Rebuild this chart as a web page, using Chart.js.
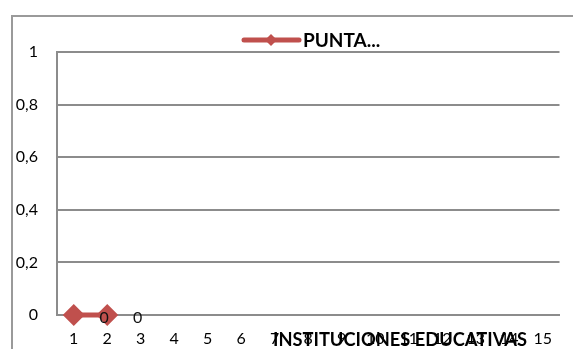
<!DOCTYPE html>
<html>
<head>
<meta charset="utf-8">
<script src="https://cdn.jsdelivr.net/npm/chart.js@4/dist/chart.umd.min.js"></script>
<style>
  html, body { margin: 0; padding: 0; background: #fff; }
  #wrap { position: relative; width: 573px; height: 349px; }
</style>
</head>
<body>
<div id="wrap"><canvas id="chart" width="573" height="349"></canvas></div>
<script>
// chart data
let categories = ['1','2','3','4','5','6','7','8','9','10','11','12','13','14','15'];
let puntajes = [0, 0, null, null, null, null, null, null, null, null, null, null, null, null, null];
let seriesName = 'PUNTA...';
let axisTitle = 'INSTITUCIONES EDUCATIVAS';
let yTicks = [0, 0.2, 0.4, 0.6, 0.8, 1];

const red = '#C0504D';
const grey = '#8c8c8c';
const fontFamily = 'Lato, "Open Sans", sans-serif';

// frame, legend, axis title and point labels drawn on top of the chart
const extras = {
    id: 'extras',
    beforeDraw(chart) {
        const ctx = chart.ctx;
        ctx.save();
        ctx.strokeStyle = '#9a9a9a';
        ctx.lineWidth = 2;
        ctx.beginPath();
        ctx.moveTo(12, 400);
        ctx.lineTo(12, 16);
        ctx.lineTo(600, 16);
        ctx.stroke();
        ctx.restore();
    },
    afterDraw(chart) {
        const ctx = chart.ctx;
        ctx.save();

        // legend
        const lx = 244, ly = 40;
        ctx.strokeStyle = red;
        ctx.lineWidth = 5;
        ctx.lineCap = 'round';
        ctx.beginPath();
        ctx.moveTo(lx, ly);
        ctx.lineTo(lx + 55, ly);
        ctx.stroke();
        ctx.fillStyle = red;
        ctx.beginPath();
        ctx.moveTo(lx + 27, ly - 6);
        ctx.lineTo(lx + 33, ly);
        ctx.lineTo(lx + 27, ly + 6);
        ctx.lineTo(lx + 21, ly);
        ctx.closePath();
        ctx.fill();
        ctx.fillStyle = '#000';
        ctx.font = 'bold 19px ' + fontFamily;
        ctx.textBaseline = 'middle';
        ctx.textAlign = 'left';
        ctx.fillText(seriesName, lx + 59, ly + 1);

        // axis title, placed like the original (over the tick labels)
        ctx.font = 'bold 18px ' + fontFamily;
        const w = ctx.measureText(axisTitle).width;
        const size = 18 * 255 / w;
        ctx.font = 'bold ' + size.toFixed(1) + 'px ' + fontFamily;
        ctx.textAlign = 'center';
        ctx.fillText(axisTitle, 400, 340);

        // point labels
        const meta = chart.getDatasetMeta(0);
        ctx.font = '16px ' + fontFamily;
        ctx.fillStyle = '#111';
        meta.data.forEach((pt, i) => {
            if (puntajes[i] === null) return;
            ctx.fillText(String(puntajes[i]), pt.x + 30.5, pt.y + 3);
        });
        ctx.restore();
    }
};

const ctx = document.getElementById('chart').getContext('2d');
new Chart(ctx, {
    type: 'line',
    data: {
        labels: categories,
        datasets: [{
            label: seriesName,
            data: puntajes,
            borderColor: red,
            backgroundColor: red,
            borderWidth: 5,
            pointStyle: 'rectRot',
            pointRadius: 11,
            pointBorderWidth: 0,
            clip: false
        }]
    },
    options: {
        responsive: false,
        animation: false,
        layout: { padding: { top: 52, right: 13.5, bottom: 0, left: 0 } },
        plugins: {
            legend: { display: false },
            tooltip: { enabled: false }
        },
        scales: {
            x: {
                offset: true,
                grid: { display: false, drawTicks: false },
                border: { display: true, color: grey, width: 2 },
                ticks: {
                    padding: 14,
                    maxRotation: 0,
                    autoSkip: false,
                    color: '#000',
                    font: { family: fontFamily, size: 16 }
                },
                afterFit(scale) { scale.height = 34; }
            },
            y: {
                min: 0,
                max: 1,
                afterBuildTicks(scale) { scale.ticks = yTicks.map(v => ({ value: v })); },
                grid: { color: grey, lineWidth: 2, drawTicks: false },
                border: { display: true, color: grey, width: 2 },
                ticks: {
                    padding: 19,
                    color: '#000',
                    font: { family: fontFamily, size: 16 },
                    callback: v => String(v).replace('.', ',')
                },
                afterFit(scale) { scale.width = 57; }
            }
        }
    },
    plugins: [extras]
});
</script>
</body>
</html>
